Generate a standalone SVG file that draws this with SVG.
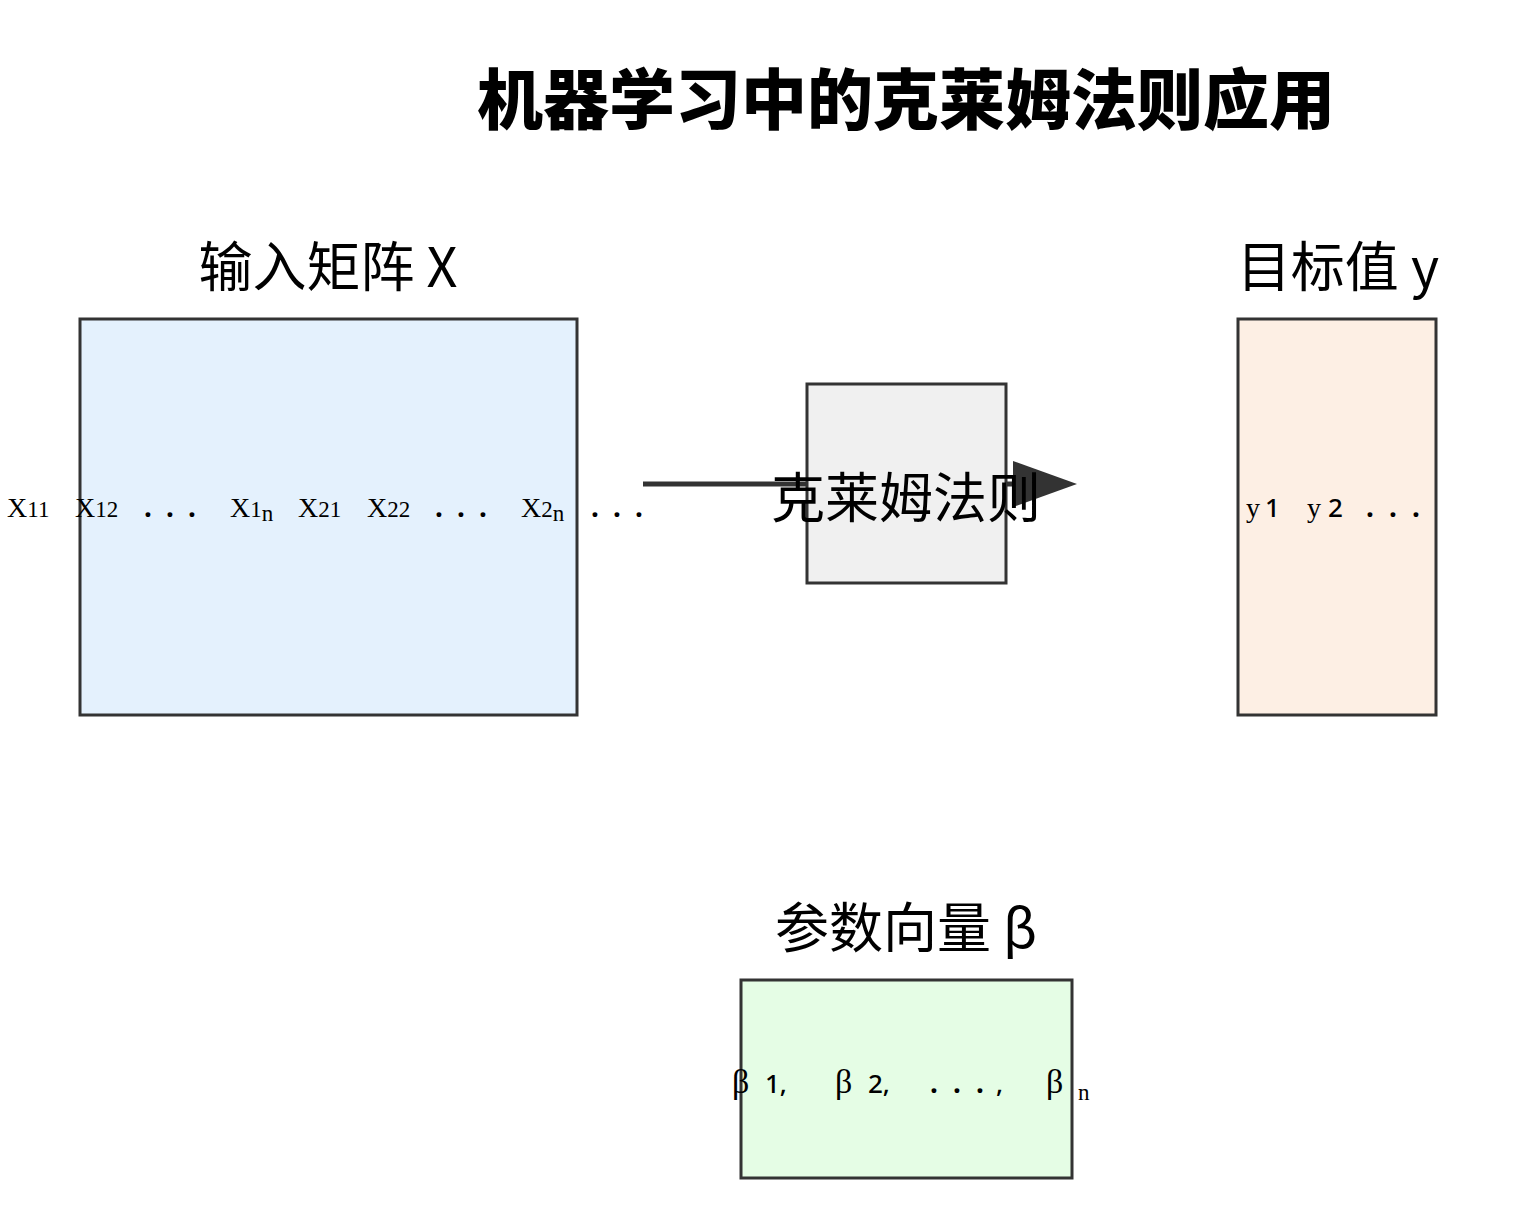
<svg xmlns="http://www.w3.org/2000/svg" width="1523" height="1210" viewBox="0 0 1523 1210">
<style>
.box{stroke:#333;stroke-width:3}
.cjk{font-family:"Noto Sans CJK SC","Noto Sans",sans-serif;fill:#000}
.ser{font-family:"Liberation Serif","Noto Serif",serif;fill:#000;font-size:28px}
.sub{font-size:23px}
.sans{font-family:"Noto Sans","DejaVu Sans",sans-serif;font-size:26px;font-weight:500}
.dot{font-family:"Noto Sans","DejaVu Sans",sans-serif;font-size:28px;font-weight:700}
.beta{font-size:34px}
</style>
<defs>
<marker id="ah" markerWidth="64" markerHeight="46" refX="0" refY="23" orient="auto" markerUnits="userSpaceOnUse" viewBox="0 0 64 46">
<polygon points="0,0 64,23 0,46" fill="#333"/>
</marker>
</defs>
<rect width="1523" height="1210" fill="#fff"/>
<text class="cjk" x="906" y="124" font-size="66" font-weight="900" text-anchor="middle">机器学习中的克莱姆法则应用</text>

<g id="connectors">
<line x1="643" y1="484" x2="1013" y2="484" stroke="#333" stroke-width="5" marker-end="url(#ah)"/>
</g>

<g id="matrix-x">
<rect class="box" x="80" y="319" width="497" height="396" fill="#e4f1fd"/>
<text class="cjk" x="328" y="287" font-size="54" text-anchor="middle">输入矩阵 X</text>
<text class="ser" y="517"><tspan x="7">X<tspan class="sub">11</tspan></tspan><tspan x="75">X<tspan class="sub">12</tspan></tspan><tspan class="dot" x="144 166 188">...</tspan><tspan x="230">X<tspan class="sub">1</tspan><tspan class="sub" dy="4">n</tspan></tspan><tspan x="298" dy="-4">X<tspan class="sub">21</tspan></tspan><tspan x="367">X<tspan class="sub">22</tspan></tspan><tspan class="dot" x="435 457 479">...</tspan><tspan x="521">X<tspan class="sub">2</tspan><tspan class="sub" dy="4">n</tspan></tspan><tspan class="dot" x="591 613 635" dy="-4">...</tspan></text>
</g>

<g id="cramer">
<rect class="box" x="807" y="384" width="199" height="199" fill="#f0f0f0"/>
<text class="cjk" x="906" y="518" font-size="54" text-anchor="middle">克莱姆法则</text>
</g>

<g id="target-y">
<rect class="box" x="1238" y="319" width="198" height="396" fill="#fdefe4"/>
<text class="cjk" x="1338" y="287" font-size="54" text-anchor="middle">目标值 y</text>
<text class="ser" y="517"><tspan x="1246">y</tspan><tspan class="sans" x="1265">1</tspan><tspan x="1307">y</tspan><tspan class="sans" x="1328">2</tspan><tspan class="dot" x="1366 1389 1412">...</tspan></text>
</g>

<g id="beta">
<rect class="box" x="741" y="980" width="331" height="198" fill="#e5fde5"/>
<text class="cjk" x="906" y="948" font-size="54" text-anchor="middle">参数向量 β</text>
<text class="ser" y="1093"><tspan class="beta" x="732">β</tspan><tspan class="sans" x="765">1,</tspan><tspan class="beta" x="835">β</tspan><tspan class="sans" x="868">2,</tspan><tspan class="dot" x="930 953 976">...</tspan><tspan class="sans" x="996">,</tspan><tspan class="beta" x="1046">β</tspan><tspan class="sub" x="1078" dy="7">n</tspan></text>
</g>
</svg>
